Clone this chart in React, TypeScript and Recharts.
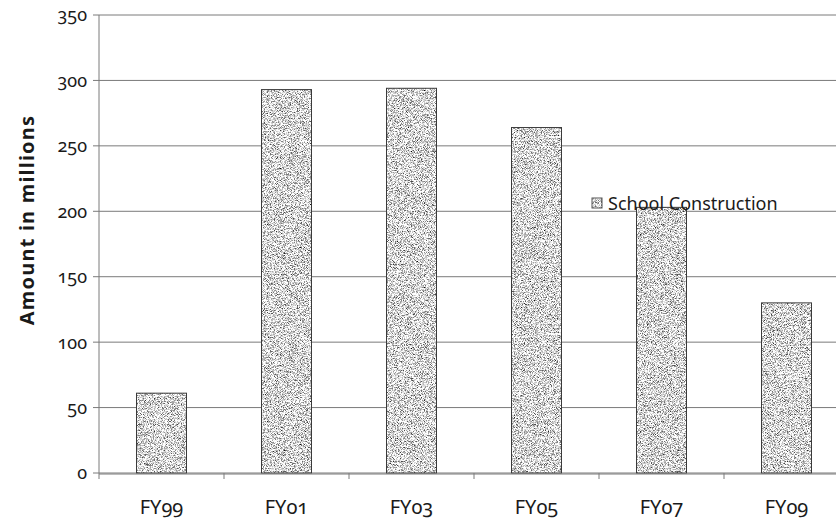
import React from 'react';
import { BarChart, Bar, XAxis, YAxis, CartesianGrid } from 'recharts';

const years = ['FY99', 'FY01', 'FY03', 'FY05', 'FY07', 'FY09'];
const schoolConstruction = [61, 293, 294, 264, 203, 130];
const yTicks = [0, 50, 100, 150, 200, 250, 300, 350];
const slotEdges = [0, 1, 2, 3, 4, 5, 6];

const data = years.map((fy, i) => ({ fy, slot: i + 0.5, value: schoolConstruction[i] }));

const FONT = '"Noto Sans", "Open Sans", sans-serif';
const GRID = '#7a7a7a';

// speckled grey fill, like the scanned texture in the source
const SpeckleBar = (props: any) => {
    const { x, y, width, height } = props;
    if (!height || height <= 0) return null;
    return (
        <g>
            <rect x={x} y={y} width={width} height={height} fill="#aaa" filter="url(#speckle)" />
            <rect x={x} y={y} width={width} height={height} fill="none" stroke="#3a3a3a" strokeWidth={1} />
        </g>
    );
};

const LegendBox = () => (
    <div style={{ position: 'absolute', left: 591, top: 192, display: 'flex', alignItems: 'center' }}>
        <svg width={13} height={13} style={{ marginRight: 4 }}>
            <rect x={1} y={1} width={10} height={10} fill="#aaa" filter="url(#speckle)" />
            <rect x={1} y={1} width={10} height={10} fill="none" stroke="#555" />
        </svg>
        <span style={{ fontSize: 18, lineHeight: '22px', color: '#1a1a1a', fontFamily: FONT }}>School Construction</span>
    </div>
);

export default function App() {
    return (
        <div style={{ position: 'absolute', left: 0, top: 0, width: 836, height: 521, overflow: 'hidden', background: '#fff', fontFamily: FONT, fontFeatureSettings: '"onum"' }}>
            <svg width={0} height={0} style={{ position: 'absolute' }}>
                <defs>
                    <filter id="speckle" x="0" y="0" width="100%" height="100%" colorInterpolationFilters="sRGB">
                        <feTurbulence type="fractalNoise" baseFrequency="1.3" numOctaves={2} seed={7} result="noise" />
                        <feColorMatrix in="noise" type="matrix"
                            values="2.1 0 0 0 -0.2  2.1 0 0 0 -0.2  2.1 0 0 0 -0.2  0 0 0 0 1" result="grey" />
                        <feComposite in="grey" in2="SourceGraphic" operator="in" />
                    </filter>
                </defs>
            </svg>
            <BarChart
                width={860}
                height={521}
                data={data}
                margin={{ top: 15, right: 11, left: 0, bottom: 0 }}
                barCategoryGap="30%"
            >
                <CartesianGrid vertical={false} stroke={GRID} xAxisId="cat" />
                {/* slot boundaries only: short ticks between the categories */}
                <XAxis
                    xAxisId={0}
                    dataKey="slot"
                    type="number"
                    domain={[0, 6]}
                    ticks={slotEdges}
                    tickFormatter={() => ''}
                    axisLine={false}
                    tickSize={6}
                    tickLine={{ stroke: GRID }}
                    height={1}
                />
                <XAxis
                    xAxisId="cat"
                    dataKey="fy"
                    axisLine={{ stroke: GRID }}
                    tickLine={false}
                    tickMargin={20}
                    height={47}
                    tick={{ fontSize: 20, fill: '#1a1a1a' }}
                />
                <YAxis
                    domain={[0, 350]}
                    ticks={yTicks}
                    interval={0}
                    width={99}
                    tickSize={6}
                    tickMargin={9}
                    axisLine={{ stroke: GRID }}
                    tickLine={{ stroke: GRID }}
                    tick={{ fontSize: 18, fill: '#1a1a1a', dx: 3 }}
                    label={{
                        content: () => (
                            <text x={26} y={220} transform="rotate(-90 26 220)" textAnchor="middle"
                                dominantBaseline="central" fontSize={20} letterSpacing={1.2} fontWeight="bold" fill="#1a1a1a">
                                Amount in millions
                            </text>
                        ),
                    }}
                />
                <Bar
                    xAxisId="cat"
                    dataKey="value"
                    name="School Construction"
                    shape={SpeckleBar}
                    isAnimationActive={false}
                />
            </BarChart>
            <LegendBox />
        </div>
    );
}
